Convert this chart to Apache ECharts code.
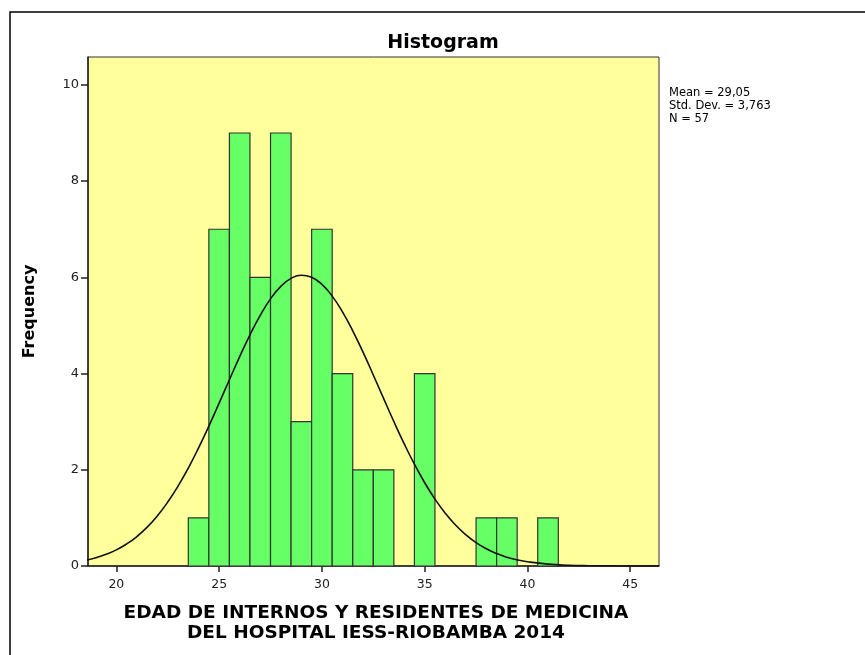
<!DOCTYPE html>
<html>
<head>
<meta charset="utf-8">
<script src="https://cdn.jsdelivr.net/npm/echarts@6/dist/echarts.min.js"></script>
<style>html,body{margin:0;padding:0;background:#fff}#c{width:865px;height:655px}</style>
</head>
<body>
<div id="c"></div>
<script>
// Histogram bins: [start, end, frequency]
const binStarts = [23.5,24.5,25.5,26.5,27.5,28.5,29.5,30.5,31.5,32.5,34.5,37.5,38.5,40.5];
const binWidth = 1;
const frequencies = [1,7,9,6,9,3,7,4,2,2,4,1,1,1];
// Normal curve (x, frequency)
const curveX = [18.5,19,19.5,20,20.5,21,21.5,22,22.5,23,23.5,24,24.5,25,25.5,26,26.5,27,27.5,28,28.5,29,29.5,30,30.5,31,31.5,32,32.5,33,33.5,34,34.5,35,35.5,36,36.5,37,37.5,38,38.5,39,39.5,40,41,42,43,44,45,46.4];
const curveY = [0.119,0.171,0.242,0.335,0.458,0.613,0.807,1.045,1.329,1.660,2.036,2.456,2.909,3.386,3.872,4.351,4.804,5.210,5.552,5.812,5.979,6.043,6.000,5.853,5.610,5.283,4.889,4.444,3.970,3.483,3.003,2.544,2.117,1.731,1.391,1.098,0.851,0.649,0.485,0.357,0.258,0.183,0.128,0.088,0.039,0.016,0.006,0.002,0.0007,0.0001];
const xTicks = [20,25,30,35,40,45];
const yTicks = [0,2,4,6,8,10];
const statsLines = ['Mean = 29,05','Std. Dev. = 3,763','N = 57'];
const titleText = 'Histogram';
const yName = 'Frequency';
const xNameLines = ['EDAD DE INTERNOS Y RESIDENTES DE MEDICINA','DEL HOSPITAL IESS-RIOBAMBA 2014'];

const histData = binStarts.map((s,i)=>[s, s+binWidth, frequencies[i]]);
const curveData = curveX.map((x,i)=>[x, curveY[i]]);

const chart = echarts.init(document.getElementById('c'), null, {renderer:'canvas'});
const font = '"DejaVu Sans", Verdana, sans-serif';
chart.setOption({
  backgroundColor:'#ffffff',
  animation:false,
  grid:{left:88, right:206, top:57, bottom:89, show:true, backgroundColor:'#ffff9c', borderColor:'#333', borderWidth:1},
  xAxis:{
    type:'value', min:18.62, max:46.4,
    axisLine:{show:true, onZero:false, lineStyle:{color:'#222', width:1.5}},
    axisTick:{show:true, length:6, customValues:xTicks, lineStyle:{color:'#222', width:1.5}},
    axisLabel:{customValues:xTicks, color:'#222', fontFamily:font, fontSize:12.5, margin:12},
    splitLine:{show:false}
  },
  yAxis:{
    type:'value', min:0, max:10.58,
    name:yName, nameLocation:'middle', nameGap:50,
    nameTextStyle:{fontFamily:font, fontWeight:'bold', fontSize:16, color:'#000'},
    axisLine:{show:true, lineStyle:{color:'#222', width:1.5}},
    axisTick:{show:true, length:7, customValues:yTicks, lineStyle:{color:'#222', width:1.5}},
    axisLabel:{customValues:yTicks, color:'#222', fontFamily:font, fontSize:13, margin:9},
    splitLine:{show:false}
  },
  series:[
    {
      type:'custom',
      data:histData,
      encode:{x:[0,1], y:2},
      renderItem:function(params, api){
        const p0 = api.coord([api.value(0), 0]);
        const p1 = api.coord([api.value(1), api.value(2)]);
        return {type:'rect', shape:{x:p0[0], y:p1[1], width:p1[0]-p0[0], height:p0[1]-p1[1]},
          style:{fill:'#66ff66', stroke:'#333', lineWidth:1.2}};
      },
      z:2
    },
    {
      type:'line', data:curveData, smooth:true, symbol:'none',
      lineStyle:{color:'#111', width:1.6}, z:3
    }
  ],
  graphic:[
    {type:'rect', shape:{x:10, y:12, width:900, height:700}, style:{fill:'none', stroke:'#000', lineWidth:1.5}, silent:true},
    {type:'text', x:443, y:43, style:{text:titleText, font:'bold 19px '+font, fill:'#000', align:'center', verticalAlign:'middle'}},
    {type:'text', x:669, y:87, style:{text:statsLines.join('\n'), font:'11.5px '+font, lineHeight:13, fill:'#000', align:'left', verticalAlign:'top'}},
    {type:'text', x:376, y:603, style:{text:xNameLines.join('\n'), font:'bold 18.5px '+font, lineHeight:20, fill:'#000', align:'center', verticalAlign:'top'}}
  ]
});
</script>
</body>
</html>
